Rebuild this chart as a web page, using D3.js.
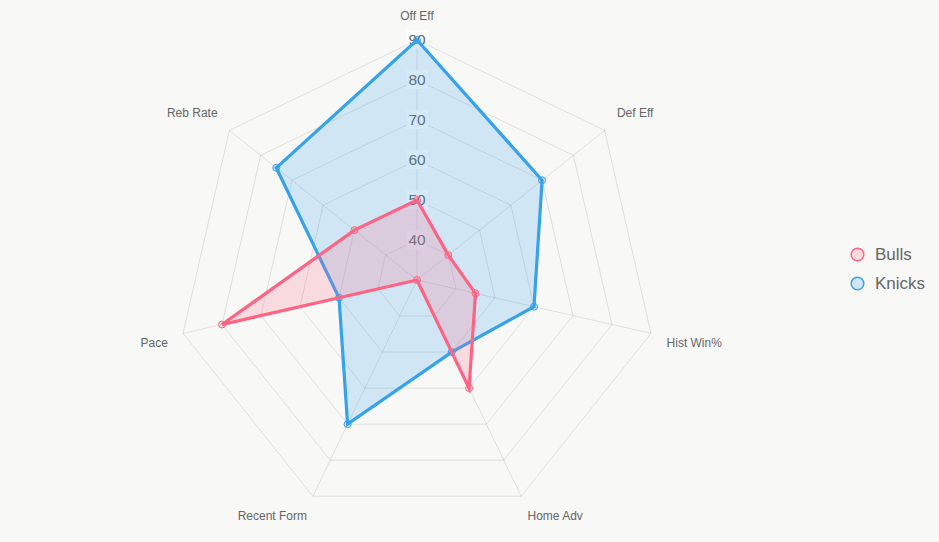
<!DOCTYPE html>
<html>
<head>
<meta charset="utf-8">
<script src="https://cdn.jsdelivr.net/npm/d3@7"></script>
<style>
  html, body { margin: 0; padding: 0; background: #f8f8f7; }
  svg { display: block; }
  text { font-family: "Liberation Sans", Arial, Helvetica, sans-serif; }
</style>
</head>
<body>
<svg id="chart" width="939" height="542"></svg>
<script>
const labels = ["Off Eff", "Def Eff", "Hist Win%", "Home Adv", "Recent Form", "Pace", "Reb Rate"];
const seriesNames = ["Bulls", "Knicks"];
const bulls = [50, 40, 45, 60, 30, 80, 50];
const knicks = [90, 70, 60, 50, 70, 50, 75];
const tickValues = [40, 50, 60, 70, 80, 90];
const scaleMin = 30, scaleMax = 90;

const colors = {
  Bulls: { line: "#FF6384", fill: "rgba(255,99,132,0.2)" },
  Knicks: { line: "#36A2EB", fill: "rgba(54,162,235,0.2)" }
};

const svg = d3.select("#chart");
const cx = 417, cy = 280, R = 240;
const r = d3.scaleLinear().domain([scaleMin, scaleMax]).range([0, R]);
const n = labels.length;
const angle = d3.scaleLinear().domain([0, n]).range([0, 2 * Math.PI]);

const g = svg.append("g").attr("transform", `translate(${cx},${cy})`);

const pt = (i, v) => {
  const a = angle(i);
  return [Math.sin(a) * r(v), -Math.cos(a) * r(v)];
};

// grid rings
const ringLine = d3.lineRadial()
  .angle((d, i) => angle(i))
  .radius(d => r(d))
  .curve(d3.curveLinearClosed);

g.append("g").selectAll("path").data(tickValues).join("path")
  .attr("d", t => ringLine(labels.map(() => t)))
  .attr("fill", "none")
  .attr("stroke", "rgba(0,0,0,0.1)")
  .attr("stroke-width", 1);

// angle lines
g.append("g").selectAll("line").data(labels).join("line")
  .attr("x1", 0).attr("y1", 0)
  .attr("x2", (d, i) => pt(i, scaleMax)[0])
  .attr("y2", (d, i) => pt(i, scaleMax)[1])
  .attr("stroke", "rgba(0,0,0,0.1)")
  .attr("stroke-width", 1);

// tick labels with backdrop
const tickG = g.append("g");
tickValues.forEach(t => {
  const y = -r(t);
  const txt = String(t);
  const w = txt.length * 15.5 * 0.556;
  tickG.append("rect")
    .attr("x", -w / 2 - 2).attr("y", y - 10)
    .attr("width", w + 4).attr("height", 19)
    .attr("fill", "rgba(255,255,255,0.75)");
  tickG.append("text")
    .attr("x", 0).attr("y", y - 1)
    .attr("text-anchor", "middle")
    .attr("dominant-baseline", "central")
    .attr("font-size", 15.5)
    .attr("fill", "#666")
    .text(txt);
});

// point labels
const labelH = 14.4, labelD = 17;
g.append("g").selectAll("text").data(labels).join("text")
  .each(function (d, i) {
    const deg = i * 360 / n;
    const a = angle(i);
    const x = Math.sin(a) * (R + labelD);
    let y = -Math.cos(a) * (R + labelD);
    let anchor = "middle";
    if (Math.abs(deg) < 0.01 || Math.abs(deg - 180) < 0.01) anchor = "middle";
    else if (deg < 180) anchor = "start";
    else anchor = "end";
    let top;
    if (Math.abs(deg - 90) < 0.01 || Math.abs(deg - 270) < 0.01) top = y - labelH / 2;
    else if (deg > 270 || deg < 90) top = y - labelH;
    else top = y - (Math.abs(Math.cos(a)) > 0.5 ? 2.5 : 1);
    d3.select(this)
      .attr("x", x - (anchor === "start" ? 1 : 0) + (anchor === "end" ? 1.5 : 0))
      .attr("y", top + labelH / 2)
      .attr("text-anchor", anchor)
      .attr("dominant-baseline", "central")
      .attr("font-size", 12)
      .attr("fill", "#666")
      .text(d);
  });

// datasets (Knicks drawn first, Bulls on top)
const dataLine = d3.lineRadial()
  .angle((d, i) => angle(i))
  .radius(d => r(d))
  .curve(d3.curveLinearClosed);

const datasets = [{ name: "Knicks", values: knicks }, { name: "Bulls", values: bulls }];
datasets.forEach(ds => {
  const c = colors[ds.name];
  const dg = g.append("g");
  dg.append("path")
    .attr("d", dataLine(ds.values))
    .attr("fill", c.fill)
    .attr("stroke", c.line)
    .attr("stroke-width", 3.2)
    .attr("stroke-linejoin", "miter");
  dg.selectAll("circle").data(ds.values).join("circle")
    .attr("cx", (v, i) => pt(i, v)[0])
    .attr("cy", (v, i) => pt(i, v)[1])
    .attr("r", 3.5)
    .attr("fill", c.fill)
    .attr("stroke", c.line)
    .attr("stroke-width", 1);
});

// legend
const legend = svg.append("g");
seriesNames.forEach((name, i) => {
  const c = colors[name];
  const y = 254.5 + i * 29;
  legend.append("circle")
    .attr("cx", 857.5).attr("cy", y).attr("r", 6.3)
    .attr("fill", c.fill)
    .attr("stroke", c.line)
    .attr("stroke-width", 1.5);
  legend.append("text")
    .attr("x", 875).attr("y", y)
    .attr("dominant-baseline", "central")
    .attr("font-size", 17)
    .attr("fill", "#666")
    .text(name);
});
</script>
</body>
</html>
